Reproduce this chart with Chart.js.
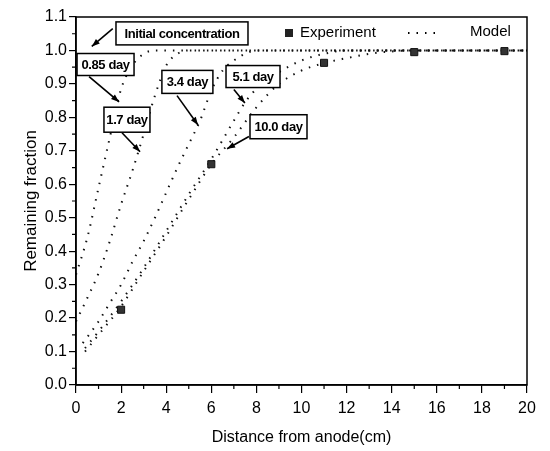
<!DOCTYPE html>
<html>
<head>
<meta charset="utf-8">
<script src="https://cdn.jsdelivr.net/npm/chart.js@4.4.1/dist/chart.umd.min.js"></script>
<style>
  html, body { margin: 0; padding: 0; background: #fff; }
  #wrap { width: 550px; height: 451px; }
</style>
</head>
<body>
<div id="wrap"><canvas id="fracChart" width="550" height="451"></canvas></div>
<script>
// experiment points
const expX = [2, 6, 11, 15, 19];
const expY = [0.225, 0.66, 0.963, 0.995, 0.998];

// model curves
const dayLabels = ['0.85 day', '1.7 day', '3.4 day', '5.1 day', '10.0 day'];
const model085X = [0, 0.5, 1, 1.5, 2, 2.5, 3, 3.5, 4, 20];
const model085Y = [0.33, 0.44, 0.59, 0.74, 0.885, 0.955, 0.99, 1.0, 1.0, 1.0];
const model17X = [0, 0.5, 1, 1.5, 2, 2.5, 3, 3.5, 4, 4.5, 5, 20];
const model17Y = [0.19, 0.26, 0.334, 0.43, 0.54, 0.64, 0.75, 0.865, 0.955, 0.99, 1.0, 1.0];
const model34X = [0.3, 1, 1.5, 2, 2.5, 3, 3.5, 4, 4.5, 5, 5.5, 6, 6.5, 7, 7.5, 8, 20];
const model34Y = [0.125, 0.19, 0.245, 0.30, 0.368, 0.43, 0.50, 0.575, 0.65, 0.72, 0.79, 0.88, 0.94, 0.97, 0.99, 1.0, 1.0];
const model51X = [0.4, 1, 2, 3, 4, 5, 6, 7, 7.5, 8, 9, 10, 11, 12, 20];
const model51Y = [0.11, 0.16, 0.25, 0.35, 0.46, 0.57, 0.675, 0.79, 0.845, 0.885, 0.935, 0.97, 0.99, 1.0, 1.0];
const model10X = [0.4, 1, 2, 3, 4, 5, 6, 7, 8, 9, 10, 11, 12, 13, 14, 15, 20];
const model10Y = [0.10, 0.15, 0.235, 0.34, 0.445, 0.555, 0.66, 0.74, 0.83, 0.90, 0.94, 0.962, 0.977, 0.99, 0.997, 1.0, 1.0];

const xTicks = [0, 2, 4, 6, 8, 10, 12, 14, 16, 18, 20];
const yTicks = [0, 0.1, 0.2, 0.3, 0.4, 0.5, 0.6, 0.7, 0.8, 0.9, 1.0, 1.1];

// callout boxes: box centre and arrow start/end, in data units
const callouts = [
  { text: 'Initial concentration', cx: 4.70, cy: 1.051, w: 132, h: 23, ax: 1.63, ay: 1.065, bx: 0.70, by: 1.012 },
  { text: '0.85 day', cx: 1.31, cy: 0.958, w: 57, h: 22, ax: 0.58, ay: 0.922, bx: 1.91, by: 0.846 },
  { text: '1.7 day', cx: 2.26, cy: 0.793, w: 46, h: 25, ax: 2.04, ay: 0.754, bx: 2.84, by: 0.697 },
  { text: '3.4 day', cx: 4.94, cy: 0.906, w: 51, h: 23, ax: 4.48, ay: 0.865, bx: 5.41, by: 0.777 },
  { text: '5.1 day', cx: 7.85, cy: 0.922, w: 54, h: 22, ax: 7.00, ay: 0.883, bx: 7.49, by: 0.843 },
  { text: '10.0 day', cx: 8.98, cy: 0.772, w: 57, h: 24, ax: 7.67, ay: 0.743, bx: 6.70, by: 0.706 }
];

const FONT = '"Liberation Sans", Arial, sans-serif';

function pts(xs, ys) {
  return xs.map((x, i) => ({ x: x, y: ys[i] }));
}

function modelSet(label, xs, ys) {
  return {
    type: 'line',
    label: label,
    data: pts(xs, ys),
    borderColor: '#111',
    borderWidth: 2,
    borderDash: [1.5, 7],
    pointRadius: 0,
    fill: false,
    cubicInterpolationMode: 'monotone',
    order: 2
  };
}

const extras = {
  id: 'extras',
  afterDraw(chart) {
    const ctx = chart.ctx;
    const a = chart.chartArea;
    const xs = chart.scales.x, ys = chart.scales.y;
    ctx.save();
    // frame
    ctx.strokeStyle = '#000';
    ctx.lineWidth = 1.5;
    ctx.strokeRect(a.left, a.top, a.right - a.left, a.bottom - a.top);
    // minor ticks
    ctx.lineWidth = 1.2;
    ctx.beginPath();
    for (let v = 1; v < 20; v += 2) {
      const px = xs.getPixelForValue(v);
      ctx.moveTo(px, a.bottom);
      ctx.lineTo(px, a.bottom + 4);
    }
    for (let v = 0.05; v < 1.1; v += 0.1) {
      const py = ys.getPixelForValue(v);
      ctx.moveTo(a.left, py);
      ctx.lineTo(a.left - 4, py);
    }
    ctx.stroke();

    // legend
    ctx.fillStyle = '#222';
    ctx.fillRect(a.left + 209, a.top + 12, 8, 8);
    ctx.fillStyle = '#000';
    ctx.font = '15px ' + FONT;
    ctx.textBaseline = 'middle';
    ctx.textAlign = 'left';
    ctx.fillText('Experiment', a.left + 224, a.top + 16);
    ctx.fillText('Model', a.left + 394, a.top + 15);
    ctx.setLineDash([1.5, 7]);
    ctx.lineWidth = 2;
    ctx.beginPath();
    ctx.moveTo(a.left + 332, a.top + 16);
    ctx.lineTo(a.left + 366, a.top + 16);
    ctx.stroke();
    ctx.setLineDash([]);

    // callouts
    callouts.forEach(c => {
      const x0 = xs.getPixelForValue(c.ax), y0 = ys.getPixelForValue(c.ay);
      const x1 = xs.getPixelForValue(c.bx), y1 = ys.getPixelForValue(c.by);
      ctx.strokeStyle = '#000';
      ctx.lineWidth = 1.6;
      ctx.beginPath();
      ctx.moveTo(x0, y0);
      ctx.lineTo(x1, y1);
      ctx.stroke();
      const ang = Math.atan2(y1 - y0, x1 - x0);
      ctx.fillStyle = '#000';
      ctx.beginPath();
      ctx.moveTo(x1, y1);
      ctx.lineTo(x1 - 8 * Math.cos(ang) + 3 * Math.sin(ang), y1 - 8 * Math.sin(ang) - 3 * Math.cos(ang));
      ctx.lineTo(x1 - 8 * Math.cos(ang) - 3 * Math.sin(ang), y1 - 8 * Math.sin(ang) + 3 * Math.cos(ang));
      ctx.closePath();
      ctx.fill();

      const cx = xs.getPixelForValue(c.cx), cy = ys.getPixelForValue(c.cy);
      ctx.fillStyle = '#fff';
      ctx.fillRect(cx - c.w / 2, cy - c.h / 2, c.w, c.h);
      ctx.lineWidth = 1.5;
      ctx.strokeRect(cx - c.w / 2, cy - c.h / 2, c.w, c.h);
      ctx.fillStyle = '#000';
      ctx.font = 'bold 13px ' + FONT;
      ctx.textAlign = 'center';
      ctx.textBaseline = 'middle';
      ctx.letterSpacing = '-0.4px';
      ctx.fillText(c.text, cx, cy + 1);
      ctx.letterSpacing = '0px';
    });
    ctx.restore();
  }
};

const ctx = document.getElementById('fracChart').getContext('2d');

new Chart(ctx, {
  type: 'scatter',
  data: {
    datasets: [
      {
        label: 'Experiment',
        data: pts(expX, expY),
        pointStyle: 'rect',
        pointRadius: 5,
        backgroundColor: '#333',
        borderColor: '#111',
        borderWidth: 1,
        order: 1
      },
      modelSet(dayLabels[0], model085X, model085Y),
      modelSet(dayLabels[1], model17X, model17Y),
      modelSet(dayLabels[2], model34X, model34Y),
      modelSet(dayLabels[3], model51X, model51Y),
      modelSet(dayLabels[4], model10X, model10Y)
    ]
  },
  options: {
    responsive: false,
    animation: false,
    layout: { padding: { top: 17, right: 23, left: 0, bottom: 0 } },
    plugins: {
      legend: { display: false },
      tooltip: { enabled: false }
    },
    scales: {
      x: {
        type: 'linear',
        min: 0,
        max: 20,
        afterFit: s => { s.height = 66; },
        afterBuildTicks: s => { s.ticks = xTicks.map(v => ({ value: v })); },
        ticks: {
          color: '#000',
          font: { family: FONT, size: 16 },
          padding: 6,
          maxRotation: 0,
          callback: v => String(v)
        },
        grid: { drawOnChartArea: false, tickLength: 8, color: '#000', lineWidth: 1.2 },
        border: { color: '#000', width: 1.5 },
        title: {
          display: true,
          text: 'Distance from anode(cm)',
          color: '#000',
          font: { family: FONT, size: 16 },
          padding: { top: 0, bottom: 4 }
        }
      },
      y: {
        type: 'linear',
        min: 0,
        max: 1.1,
        afterFit: s => { s.width = 76; },
        afterBuildTicks: s => { s.ticks = yTicks.map(v => ({ value: v })); },
        ticks: {
          color: '#000',
          font: { family: FONT, size: 16 },
          padding: 2,
          callback: v => v.toFixed(1)
        },
        grid: { drawOnChartArea: false, tickLength: 7, color: '#000', lineWidth: 1.2 },
        border: { color: '#000', width: 1.5 },
        title: {
          display: true,
          text: 'Remaining fraction',
          color: '#000',
          font: { family: FONT, size: 17 },
          padding: { top: 21, bottom: 21 }
        }
      }
    }
  },
  plugins: [extras]
});
</script>
</body>
</html>
